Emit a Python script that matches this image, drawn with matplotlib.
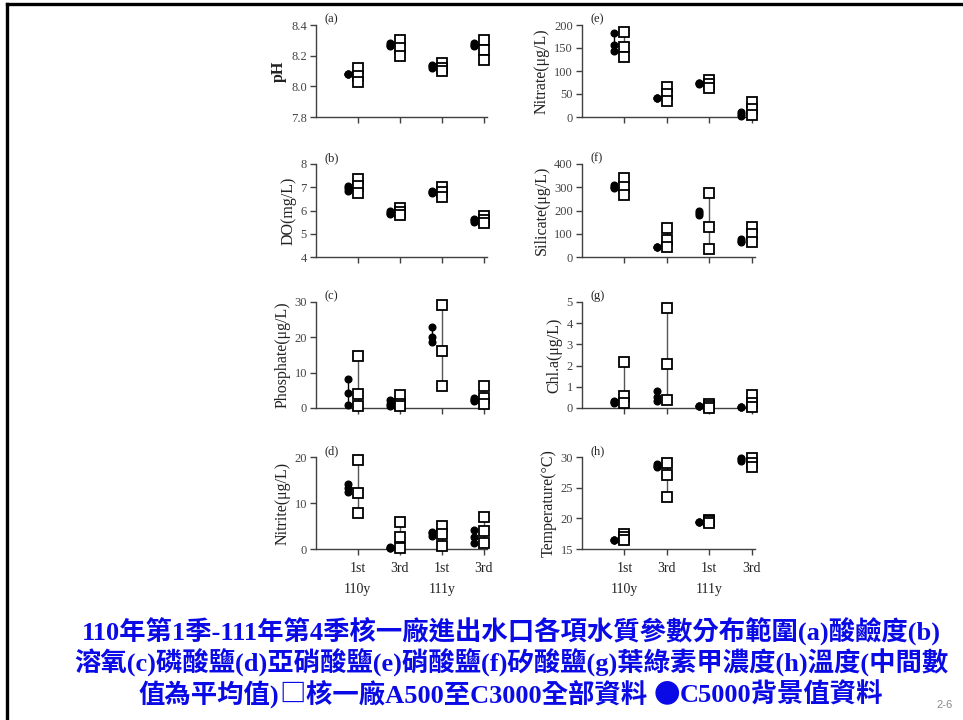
import matplotlib
matplotlib.use("Agg")
import matplotlib.pyplot as plt
from matplotlib.lines import Line2D
import matplotlib.transforms as mtransforms
from matplotlib.offsetbox import TextArea, HPacker, AnnotationBbox

# groups: 110y 1st, 110y 3rd, 111y 1st, 111y 3rd ; each [max, mean, min]
quarters = ["1st", "3rd", "1st", "3rd"]
years = ["110y", "111y"]

ph_bg = [[8.08, 8.08, 8.08], [8.28, 8.27, 8.26], [8.14, 8.13, 8.12], [8.28, 8.27, 8.26]]
ph_all = [[8.12, 8.07, 8.03], [8.30, 8.25, 8.20], [8.15, 8.12, 8.10], [8.30, 8.24, 8.17]]

do_bg = [[7.05, 6.95, 6.85], [5.97, 5.90, 5.84], [6.85, 6.80, 6.75], [5.65, 5.57, 5.50]]
do_all = [[7.35, 7.05, 6.75], [6.10, 5.95, 5.80], [7.00, 6.80, 6.58], [5.75, 5.60, 5.45]]

po4_bg = [[8.2, 4.2, 0.8], [2.3, 1.1, 0.5], [22.8, 20.2, 18.6], [2.8, 2.3, 1.9]]
po4_all = [[14.6, 4.0, 0.6], [3.8, 1.2, 0.5], [29.1, 16.1, 6.3], [6.3, 2.8, 1.0]]

no2_bg = [[14.2, 13.3, 12.5], [0.4, 0.3, 0.2], [3.8, 3.4, 2.9], [4.1, 2.7, 1.2]]
no2_all = [[19.3, 12.1, 7.9], [5.9, 2.7, 0.2], [5.0, 3.2, 0.7], [7.0, 3.9, 1.2]]

no3_bg = [[183, 157, 144], [41, 41, 41], [74, 73, 72], [10, 6, 3]]
no3_all = [[184, 153, 131], [65, 49, 35], [80, 71, 63], [33, 18, 4]]

si_bg = [[308, 302, 296], [43, 43, 43], [197, 189, 182], [77, 70, 63]]
si_all = [[340, 300, 265], [125, 75, 42], [276, 131, 33], [127, 97, 66]]

chla_bg = [[0.35, 0.28, 0.22], [0.78, 0.54, 0.34], [0.10, 0.10, 0.10], [0.07, 0.06, 0.05]]
chla_all = [[2.15, 0.55, 0.25], [4.70, 2.08, 0.36], [0.20, 0.10, 0.02], [0.60, 0.25, 0.03]]

temp_bg = [[16.5, 16.5, 16.5], [28.9, 28.6, 28.3], [19.4, 19.4, 19.4], [29.8, 29.6, 29.4]]
temp_all = [[17.4, 16.9, 16.4], [29.0, 27.1, 23.5], [19.7, 19.5, 19.3], [29.8, 29.1, 28.4]]

panels = [
    # label, ylabel, bg, all, ylim, yticks, fmt, bold
    ("(a)", "pH", ph_bg, ph_all, (7.8, 8.4), [7.8, 8.0, 8.2, 8.4], "%.1f", True),
    ("(b)", "DO(mg/L)", do_bg, do_all, (4, 8), [4, 5, 6, 7, 8], "%d", False),
    ("(c)", "Phosphate(μg/L)", po4_bg, po4_all, (0, 30), [0, 10, 20, 30], "%d", False),
    ("(d)", "Nitrite(μg/L)", no2_bg, no2_all, (0, 20), [0, 10, 20], "%d", False),
    ("(e)", "Nitrate(μg/L)", no3_bg, no3_all, (0, 200), [0, 50, 100, 150, 200], "%d", False),
    ("(f)", "Silicate(μg/L)", si_bg, si_all, (0, 400), [0, 100, 200, 300, 400], "%d", False),
    ("(g)", "Chl.a(μg/L)", chla_bg, chla_all, (0, 5), [0, 1, 2, 3, 4, 5], "%d", False),
    ("(h)", "Temperature(°C)", temp_bg, temp_all, (15, 30), [15, 20, 25, 30], "%d", False),
]

W, H = 963, 720
fig = plt.figure(figsize=(W / 100, H / 100), dpi=100)

# pixel boxes (top, bottom) per row, (left, right) per column
rows = [(25, 117), (164, 257), (302, 408), (457, 549)]
cols = [(316, 487), (582, 755)]

serif = ["Liberation Serif", "DejaVu Serif"]
spine_c = "#404040"

for i, (lab, ylab, bg, al, ylim, yt, fmt, bold) in enumerate(panels):
    col = i // 4
    row = i % 4
    l, r = cols[col]
    t, b = rows[row]
    ax = fig.add_axes([l / W, 1 - b / H, (r - l) / W, (b - t) / H])
    for s in ["top", "right"]:
        ax.spines[s].set_visible(False)
    for s in ["left", "bottom"]:
        ax.spines[s].set_color(spine_c)
        ax.spines[s].set_linewidth(1.0)
    ax.set_xlim(0, 4.08)
    ax.set_ylim(*ylim)
    ax.set_yticks(yt)
    ax.set_yticklabels([fmt % v for v in yt], fontfamily=serif, fontsize=9, color="#444444")
    ax.tick_params(axis="y", length=4.5, width=1, color=spine_c, pad=2)
    ax.set_xticks([1, 2, 3, 4])
    ax.tick_params(axis="x", length=4.5, width=1, color=spine_c, pad=4.5)
    if row == 3:
        ax.set_xticklabels(quarters, fontfamily=serif, fontsize=10, color="#222222")
        tr = mtransforms.blended_transform_factory(ax.transData, ax.transAxes)
        for k, yr in enumerate(years):
            ax.text(1 + 2 * k, -0.435, yr, transform=tr, ha="center", va="center",
                    fontfamily=serif, fontsize=10, color="#222222")
    else:
        ax.set_xticklabels([])
    ax.set_ylabel(ylab, fontfamily=serif, fontsize=11.5, color="#222222",
                  fontweight="bold" if bold else "normal", labelpad=3)
    ax.text(0.05, 1.0, lab, transform=ax.transAxes, fontfamily=serif, fontsize=9,
            va="bottom", ha="left", color="#222222")

    for g in range(4):
        xs = g + 1
        xc = xs - 0.24
        ax.plot([xc, xc], [min(bg[g]), max(bg[g])], color="black", lw=1, zorder=2)
        ax.plot([xc] * 3, bg[g], "o", color="black", ms=4.8, zorder=3, clip_on=False)
        ax.plot([xs, xs], [min(al[g]), max(al[g])], color="#555555", lw=1, zorder=2)
        ax.plot([xs] * 3, al[g], "s", mfc="white", mec="black", mew=1.3, ms=6.5,
                zorder=4, clip_on=False)

# slide frame
fig.add_artist(Line2D([7 / W, 1], [1 - 4 / H, 1 - 4 / H], color="black", lw=2.4))
fig.add_artist(Line2D([7 / W, 7 / W], [0, 1 - 4 / H], color="black", lw=2.4))

cap_font = ["Liberation Serif", "Noto Sans CJK TC"]
cjk_font = ["Noto Sans CJK TC"]
blue = "#0A0AE6"
cap_size = 19

caption = [
    "110年第1季-111年第4季核一廠進出水口各項水質參數分布範圍(a)酸鹼度(b)",
    "溶氧(c)磷酸鹽(d)亞硝酸鹽(e)硝酸鹽(f)矽酸鹽(g)葉綠素甲濃度(h)溫度(中間數",
]
for k, line in enumerate(caption):
    fig.text(511 / W, 1 - (631 + 31.5 * k) / H, line, ha="center", va="center",
             fontfamily=cap_font, fontweight="bold", fontsize=cap_size, color=blue)

# third line: symbols drawn with the CJK font so they are full width
parts = [("值為平均值)", cap_font), ("□", cjk_font), ("核一廠A500至C3000全部資料 ", cap_font),
         ("●", cjk_font), ("C5000背景值資料", cap_font)]
boxes = [TextArea(s, textprops=dict(fontfamily=f, fontweight="bold", fontsize=cap_size,
                                    color=blue)) for s, f in parts]
pack = HPacker(children=boxes, align="baseline", pad=0, sep=0)
ab = AnnotationBbox(pack, (511 / W, 1 - 694 / H), xycoords="figure fraction",
                    frameon=False, box_alignment=(0.5, 0.5))
fig.add_artist(ab)

fig.text(945 / W, 1 - 705 / H, "2-6", ha="center", va="center", fontsize=8,
         color="#888888", fontfamily=["Liberation Sans"])

fig.savefig("out.png", dpi=100)
